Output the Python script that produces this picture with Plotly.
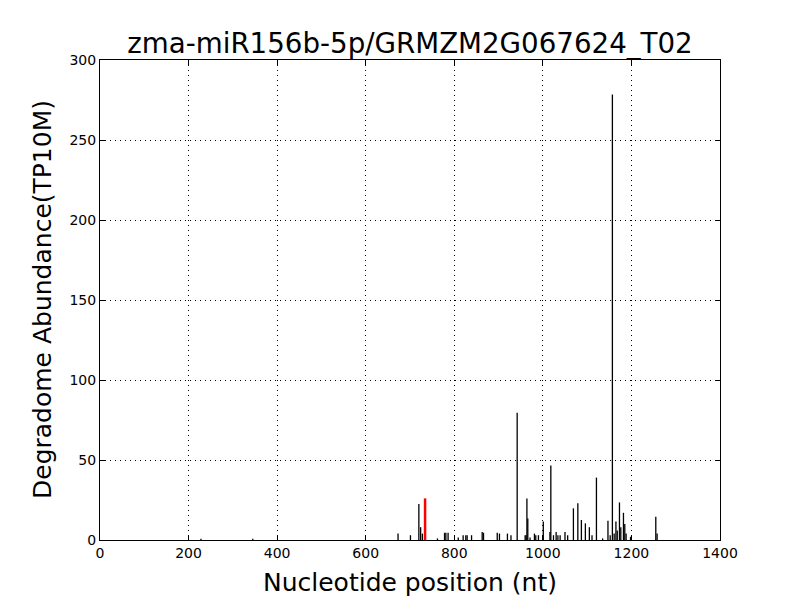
import plotly.graph_objects as go

positions = [228, 345, 673, 701, 720, 724, 728, 762, 778, 781, 786, 809, 820, 826, 829, 839,
             863, 866, 897, 902, 920, 928, 942, 960, 962, 964, 966, 971, 981, 984, 990,
             1001, 1016, 1018, 1024, 1030, 1034, 1039, 1050, 1056, 1069, 1079, 1087, 1096,
             1105, 1111, 1121, 1135, 1147, 1152, 1157, 1161, 1165, 1168, 1173, 1176, 1182,
             1185, 1188, 1198, 1255, 1258]
abundance = [0.8, 0.8, 4, 3, 22.5, 8, 4, 1, 4.5, 4.5, 4.5, 1.5, 3, 3, 3, 3,
             5, 4.5, 4.5, 4, 4, 3, 79.6, 3, 3, 26, 13.5, 1.5, 4, 3, 3,
             11.5, 5, 46.5, 3, 5, 3, 3, 5, 3, 19.8, 23, 12.5, 10.4,
             8, 3, 39, 1, 12, 3, 278.5, 4, 11.5, 6, 23.5, 8, 17,
             10, 4, 2, 14.5, 4]
target_pos = [734]
target_val = [26]

title = "zma-miR156b-5p/GRMZM2G067624_T02"
x_label = "Nucleotide position (nt)"
y_label = "Degradome Abundance(TP10M)"
x_ticks = [0, 200, 400, 600, 800, 1000, 1200, 1400]
y_ticks = [0, 50, 100, 150, 200, 250, 300]


def stems(xs, ys):
    sx, sy = [], []
    for x, y in zip(xs, ys):
        sx += [x, x, None]
        sy += [0, y, None]
    return sx, sy


bx, by = stems(positions, abundance)
rx, ry = stems(target_pos, target_val)

fig = go.Figure()
fig.add_trace(go.Scatter(x=bx, y=by, mode="lines", line=dict(color="black", width=1.3),
                         hoverinfo="skip", showlegend=False))
fig.add_trace(go.Scatter(x=rx, y=ry, mode="lines", line=dict(color="red", width=2.5),
                         hoverinfo="skip", showlegend=False))

axis_common = dict(
    showline=True, linecolor="black", linewidth=1, mirror="ticks",
    ticks="inside", ticklen=5, tickcolor="black",
    showgrid=True, gridcolor="black", gridwidth=1, griddash="1px,4px",
    zeroline=False, tickfont=dict(family="DejaVu Sans", size=14, color="black"),
)

fig.update_layout(
    width=800, height=600,
    paper_bgcolor="white", plot_bgcolor="white",
    margin=dict(l=92, r=88, t=52, b=68),
    title=dict(text=title, x=402 / 800, xanchor="center", y=1 - 35 / 600, yanchor="middle",
               font=dict(family="DejaVu Sans", size=27.7, color="black")),
    xaxis=dict(range=[0, 1400], tickvals=x_ticks, ticktext=[str(t) for t in x_ticks],
               **axis_common),
    yaxis=dict(range=[0, 300], tickvals=y_ticks, ticktext=[str(t) for t in y_ticks],
               **axis_common),
    font=dict(family="DejaVu Sans", color="black"),
    annotations=[
        dict(text=x_label, xref="paper", yref="paper", x=0.5, y=0, xanchor="center",
             yanchor="middle", yshift=-42, showarrow=False,
             font=dict(family="DejaVu Sans", size=25, color="black")),
        dict(text=y_label, xref="paper", yref="paper", x=0, y=0.5, xanchor="center",
             yanchor="middle", xshift=-58, textangle=-90, showarrow=False,
             font=dict(family="DejaVu Sans", size=25, color="black")),
    ],
)

fig.write_html("out.html")
